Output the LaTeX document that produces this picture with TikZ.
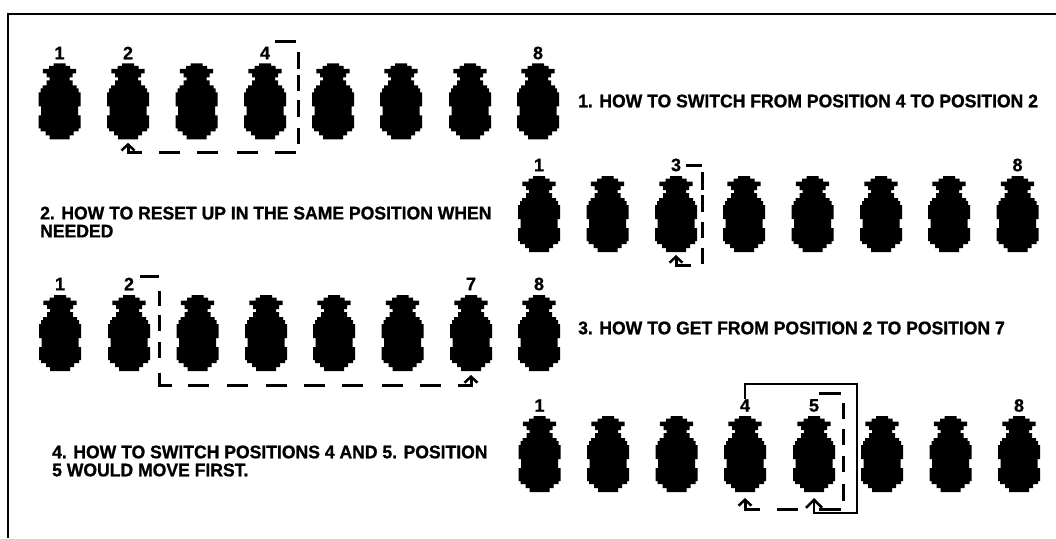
\documentclass[tikz,border=0pt]{standalone}
\usepackage{fontspec}
\setmainfont{Liberation Sans}
\newfontfamily\capsfont[FakeStretch=0.96,FakeBold=1.0]{Liberation Sans Bold}
\newfontfamily\numfont[FakeBold=0.7]{Liberation Sans Bold}
\usetikzlibrary{arrows.meta}
\tikzset{
  x=1pt,y=-1pt,
  pinebox/.style={minimum width=42pt,minimum height=76pt,inner sep=0pt,outer sep=0pt},
  num/.style={font=\numfont\fontsize{18}{18}\selectfont,inner sep=0pt,text=black},
  caption/.style={font=\capsfont\fontsize{18.3}{18}\selectfont,inner sep=0pt,anchor=west,align=left,text=black},
  dashconn/.style={line width=3pt,-{Straight Barb[width=13pt,length=6pt,line width=2.5pt]}},
  solidconn/.style={line width=2.3pt,-{Straight Barb[width=16pt,length=8pt,line width=2.5pt]}},
  dashstem/.style={line width=3pt},
  solidstem/.style={line width=2.3pt},
  frameline/.style={line width=2.5pt,black},
}
\newcommand{\pine}[3]{%
  \node[pinebox] (#1) at (#2,#3+38) {};
  \fill[black,shift={(#1.north)}]
    (-6,0)--(6,0)--(6,2.5)--(10.5,2.5)--(10.5,5.5)--(16.7,5.5)--(16.7,10)--(13,10)--(13,14)--(10,14)--(10,17)--(13,17)--(13,22)--(17,22)--(17,25)--(19,25)--(19,29)--(21,29)--(21,43)--(18.5,43)--(18.5,52)--(21,52)--(21,65)--(19,65)--(19,68)--(14,68)--(14,72)--(10,72)--(10,76)
    --(-10,76)--(-10,72)--(-14,72)--(-14,68)--(-19,68)--(-19,65)--(-21,65)--(-21,52)--(-18.5,52)--(-18.5,43)--(-21,43)--(-21,29)--(-19,29)--(-19,25)--(-17,25)--(-17,22)--(-13,22)--(-13,17)--(-10,17)--(-10,14)--(-13,14)--(-13,10)--(-16.7,10)--(-16.7,5.5)--(-10.5,5.5)--(-10.5,2.5)--(-6,2.5)--cycle;%
}
\begin{document}
\begin{tikzpicture}
\useasboundingbox (0,0) rectangle (1056,538);
\draw[frameline] (8,538) |- (1056,14);
% pineapples
\foreach \i/\x in {1/59.5,2/128,3/196.5,4/265,5/333,6/401,7/470,8/538} {\pine{p1\i}{\x}{63.3}}
\foreach \i/\x in {1/539,2/607.5,3/676,4/744,5/812.5,6/881,7/949,8/1017.5} {\pine{p2\i}{\x}{176}}
\foreach \i/\x in {1/60,2/129,3/197.5,4/266,5/334,6/402.5,7/471,8/539} {\pine{p3\i}{\x}{295}}
\foreach \i/\x in {1/539.5,2/608,3/676.5,4/745,5/814,6/882,7/950.5,8/1019} {\pine{p4\i}{\x}{416}}
% numbers
\node[num] (l11) at (59.5,53) {1};
\node[num] (l12) at (128,53) {2};
\node[num] (l14) at (265,53) {4};
\node[num] (l18) at (538,53) {8};
\node[num] (l21) at (539,165) {1};
\node[num] (l23) at (676,165) {3};
\node[num] (l28) at (1017.5,165) {8};
\node[num] (l31) at (60,284) {1};
\node[num] (l32) at (129,284) {2};
\node[num] (l37) at (471,284) {7};
\node[num] (l38) at (539,284) {8};
\node[num] (l41) at (539.5,405.5) {1};
\node[num] (l44) at (745,405.5) {4};
\node[num] (l45) at (814,405.5) {5};
\node[num] (l48) at (1019,405.5) {8};
% captions
\node[caption] (t1) at (578,101) {1. HOW TO SWITCH FROM POSITION 4 TO POSITION 2};
\node[caption] (t2) at (40,222) {2. HOW TO RESET UP IN THE SAME POSITION WHEN\\NEEDED};
\node[caption] (t3) at (578,328) {3. HOW TO GET FROM POSITION 2 TO POSITION 7};
\node[caption] (t4) at (52,461) {4. HOW TO SWITCH POSITIONS 4 AND 5. POSITION\\5 WOULD MOVE FIRST.};
% connector 1
\coordinate (a0) at (275,41.5);
\coordinate (a1) at (298,41.5);
\coordinate (a2) at (298,152.5);
\draw[dashconn,dash pattern=on 21pt off 12.5pt on 16.5pt off 6.5pt on 16pt off 9pt on 17pt off 11pt on 16pt off 10.5pt on 21pt off 17pt on 21pt off 19pt on 21pt off 17pt on 21pt off 17pt on 40pt off 1pt]
  (a0) -- (a1) -- (a2) -| ([yshift=-3.5pt]p12.south);
\draw[dashstem] (p12.south |- a2) -- ([yshift=-5pt]p12.south);
% connector 2
\coordinate (b0) at (686,165);
\coordinate (b1) at (702,165);
\coordinate (b2) at (702,265);
\draw[dashconn,dash pattern=on 16pt off 7pt on 18pt off 5pt on 17pt off 10pt on 16pt off 10pt on 16pt off 12pt on 40pt off 1pt]
  (b0) -- (b1) -- (b2) -| ([yshift=-3pt]p23.south);
\draw[dashstem] (p23.south |- b2) -- ([yshift=-4.5pt]p23.south);
% connector 3
\coordinate (c0) at (140,276);
\coordinate (c1) at (159,276);
\coordinate (c2) at (159,385);
\draw[dashconn,dash pattern=on 19pt off 15pt on 15pt off 9pt on 16pt off 11pt on 16pt off 14.7pt on 25.3pt off 16pt on 21pt off 18pt on 21pt off 18pt on 21pt off 17pt on 21pt off 17pt on 21pt off 19pt on 21pt off 17pt on 21pt off 17pt on 40pt off 1pt]
  (c0) -- (c1) -- (c2) -| ([yshift=-4pt]p37.south);
\draw[dashstem] (p37.south |- c2) -- ([yshift=-5.5pt]p37.south);
% connector 4 dashed
\coordinate (d0) at (819,393);
\coordinate (d1) at (843,393);
\coordinate (d2) at (843,509);
\draw[dashconn,dash pattern=on 22pt off 12pt on 16pt off 10pt on 16pt off 11pt on 16pt off 12pt on 17pt off 10pt on 22pt off 21pt on 21pt off 17pt on 40pt off 1pt]
  (d0) -- (d1) -- (d2) -| ([yshift=-6pt]p44.south);
\draw[dashstem] (p44.south |- d2) -- ([yshift=-7.5pt]p44.south);
% connector 4 solid
\coordinate (e1) at (745.7,384);
\coordinate (e2) at (857,384);
\coordinate (e3) at (857,513);
\draw[solidconn] (l44.north) -- (l44.north |- e1) -- (e2) -- (e3) -| ([yshift=-6pt]p45.south);
\draw[solidstem] (p45.south |- e3) -- ([yshift=-7.5pt]p45.south);
\end{tikzpicture}
\end{document}
